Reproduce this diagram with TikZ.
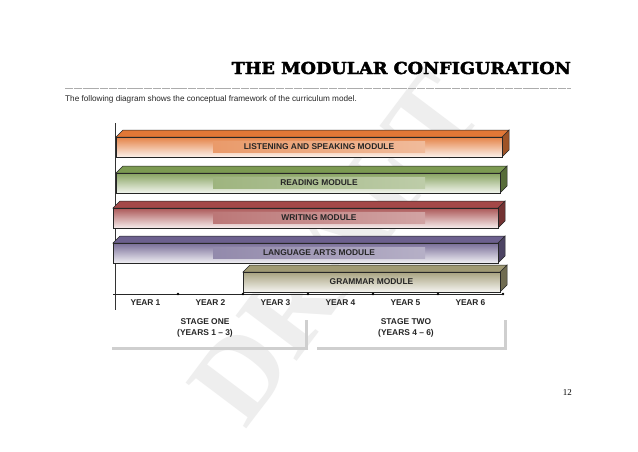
\documentclass[tikz,border=0pt]{standalone}
\usepackage{fontspec}
\setmainfont{Liberation Sans}
\newfontfamily\titlefont[FakeBold=2.5]{DejaVu Serif}
\newfontfamily\pagefont{Liberation Serif}
\usetikzlibrary{positioning}

\definecolor{modorange}{HTML}{E27736}
\definecolor{modgreen}{HTML}{7C9A52}
\definecolor{modred}{HTML}{A44848}
\definecolor{modviolet}{HTML}{6C608E}
\definecolor{modkhaki}{HTML}{A09A74}

\tikzset{
  modlabel/.style={font=\fontsize{8.4}{9}\selectfont\bfseries, text=black!85, inner sep=0pt},
  withstrip/.style={left color=#1!74!white, right color=#1!50!white, minimum width=212pt, minimum height=11pt},
  nostrip/.style={},
  yearlabel/.style={font=\fontsize{8.4}{9}\selectfont\bfseries, text=black!85},
  stagelabel/.style={font=\fontsize{8.4}{10.5}\selectfont\bfseries, text=black!85, align=center},
  stageline/.style={gray!38, line width=3pt},
}

\begin{document}
\begin{tikzpicture}[x=1pt,y=-1pt]
\useasboundingbox[fill=white] (0,0) rectangle (638,451);

% Wasserzeichen
\node[rotate=53, text=gray!13, font=\pagefont\bfseries\fontsize{116}{116}\selectfont] (draft) at (335,248) {DRAFT};

% Titel
\node[anchor=base east, inner sep=0pt, xscale=1.07, font=\titlefont\bfseries\fontsize{16.5}{17}\selectfont] (title) at (571,74) {THE MODULAR CONFIGURATION};
\draw[gray!65, line width=0.4pt, dash pattern=on 8pt off 0.8pt] (65,88.5) -- (571,88.5);
\node[anchor=base west, inner sep=0pt, font=\fontsize{8.2}{9}\selectfont, text=black!85] (intro) at (65,101) {The following diagram shows the conceptual framework of the curriculum model.};

% Achse
\draw[black!80, line width=0.6pt] (115.5,123) -- (115.5,310);

% Module
\foreach \xa/\xb/\ya/\col/\name/\lx/\sty/\txt in {
    116/502/137/modorange/listen/319/withstrip/LISTENING AND SPEAKING MODULE,
    116/500/173/modgreen/read/319/withstrip/READING MODULE,
    113/498/208/modred/write/319/withstrip/WRITING MODULE,
    113/498/243/modviolet/lang/319/withstrip/LANGUAGE ARTS MODULE,
    243/500/272/modkhaki/gram/371.5/nostrip/GRAMMAR MODULE} {
  \filldraw[fill=\col!70!black, draw=black!85, line width=0.5pt] (\xb,\ya) -- ++(7,-7) -- ++(0,20) -- ++(-7,7) -- cycle;
  \filldraw[fill=\col, draw=black!85, line width=0.5pt] (\xa,\ya) -- ++(7,-7) -- (\xb+7,\ya-7) -- (\xb,\ya) -- cycle;
  \filldraw[top color=\col!92!white, bottom color=\col!10!white, draw=black!85, line width=0.5pt] (\xa,\ya) rectangle (\xb,\ya+20);
  \node[modlabel, \sty=\col] (\name) at (\lx,\ya+10) {\txt};
}

% Jahre
\draw[black!85, line width=0.6pt] (113,294) -- (502,294);
\foreach \i in {1,...,6} {
  \fill[black] (113+65*\i,294) circle (1.3pt);
  \node[yearlabel] (y\i) at (80.5+65*\i,303) {YE\kern-0.5ptAR \i};
}

% Stufen
\draw[stageline] (306,320) -- (306,348) -- (112,348);
\draw[stageline] (505,320) -- (505,348) -- (317,348);
\node[stagelabel] (stage1) at (205,328) {STAGE ONE\\(YEARS 1 -- 3)};
\node[stagelabel] (stage2) at (406,328) {STAGE TWO\\(YEARS 4 -- 6)};

% Seitenzahl
\node[anchor=base east, inner sep=0pt, font=\pagefont\fontsize{9}{10}\selectfont] (pagenum) at (572,395) {12};
\end{tikzpicture}
\end{document}
